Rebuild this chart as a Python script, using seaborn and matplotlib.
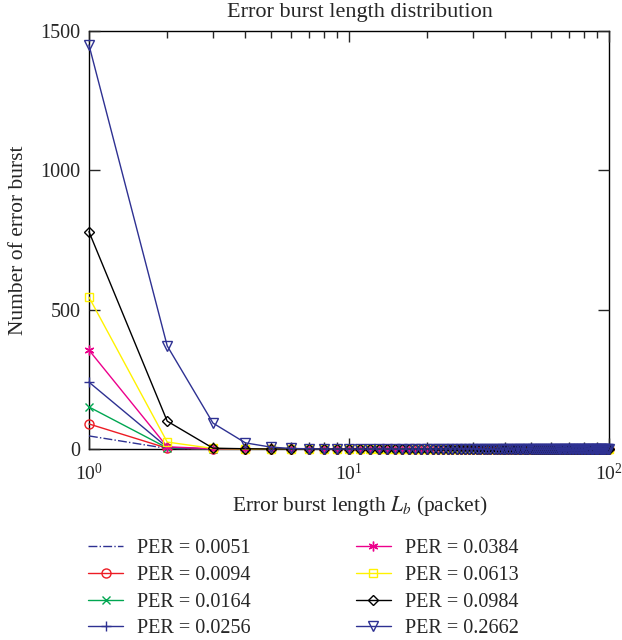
import matplotlib
matplotlib.use('Agg')
import matplotlib.pyplot as plt
import seaborn as sns
import numpy as np

sns.set_style('ticks')
plt.rcParams['font.family'] = ['Liberation Serif', 'DejaVu Serif']
plt.rcParams['mathtext.fontset'] = 'stix'

# burst length 1..100 packets
burst_len = list(range(1, 101))

per_labels = ['PER = 0.0051', 'PER = 0.0094', 'PER = 0.0164', 'PER = 0.0256',
              'PER = 0.0384', 'PER = 0.0613', 'PER = 0.0984', 'PER = 0.2662']

# counts; everything past the head is zero
head_0051 = [47, 2, 0]
head_0094 = [90, 3, 0]
head_0164 = [151, 4, 0]
head_0256 = [240, 6, 0]
head_0384 = [355, 8, 1]
head_0613 = [545, 25, 2]
head_0984 = [780, 100, 3, 1]
head_2662 = [1450, 370, 93, 22, 7, 2, 1]

heads = [head_0051, head_0094, head_0164, head_0256,
         head_0384, head_0613, head_0984, head_2662]
counts = [h + [0] * (len(burst_len) - len(h)) for h in heads]

colors = ['#2e3192', '#ed1c24', '#00a651', '#2e3192',
          '#ec008c', '#fff200', '#000000', '#2e3192']
markers = ['', 'o', 'x', '+', (6, 2, 0), 's', 'D', 'v']
styles = ['-.', '-', '-', '-', '-', '-', '-', '-']
msizes = [6, 6.5, 5.5, 7, 7, 5.5, 5.5, 7]

fig = plt.figure(figsize=(6.22, 6.4), dpi=100)
ax = fig.add_axes([0.143, 0.2984, 0.836, 0.6532])

for y, c, m, ls, ms, lab in zip(counts, colors, markers, styles, msizes, per_labels):
    sns.lineplot(x=burst_len, y=y, ax=ax, color=c, marker=m if m != '' else None,
                 linestyle=ls, linewidth=1.0, markersize=ms,
                 markerfacecolor='none', markeredgecolor=c, markeredgewidth=1.0,
                 label=lab, clip_on=False)

ax.set_xscale('log')
ax.set_xlim(1, 100)
ax.set_ylim(0, 1500)
ax.set_yticks([0, 500, 1000, 1500])

ax.tick_params(axis='both', which='major', direction='in', length=8, width=1,
               top=True, right=True, labelsize=14.5, pad=6)
ax.tick_params(axis='x', which='major', labelsize=14, pad=10)
ax.tick_params(axis='x', which='minor', direction='in', length=5, width=1,
               top=True, bottom=True)
for s in ax.spines.values():
    s.set_linewidth(1.0)
    s.set_color('black')
    s.set_zorder(0.5)

ax.set_title('Error burst length distribution', fontsize=16, pad=10, x=0.522)
ax.set_xlabel('Error burst length $L_b$ (packet)', fontsize=15.5, labelpad=7)
ax.xaxis.label.set_x(0.52)
ax.set_ylabel('Number of error burst', fontsize=15.5, labelpad=9)

ax.legend(loc='upper left', bbox_to_anchor=(88 / 622, 1 - 539 / 640),
          bbox_transform=fig.transFigure, borderpad=0, borderaxespad=0,
          ncol=2, frameon=False, fontsize=14.5, handlelength=1.74,
          columnspacing=5.2, labelspacing=0.38, handletextpad=0.7)

fig.savefig('out.png', dpi=100)
